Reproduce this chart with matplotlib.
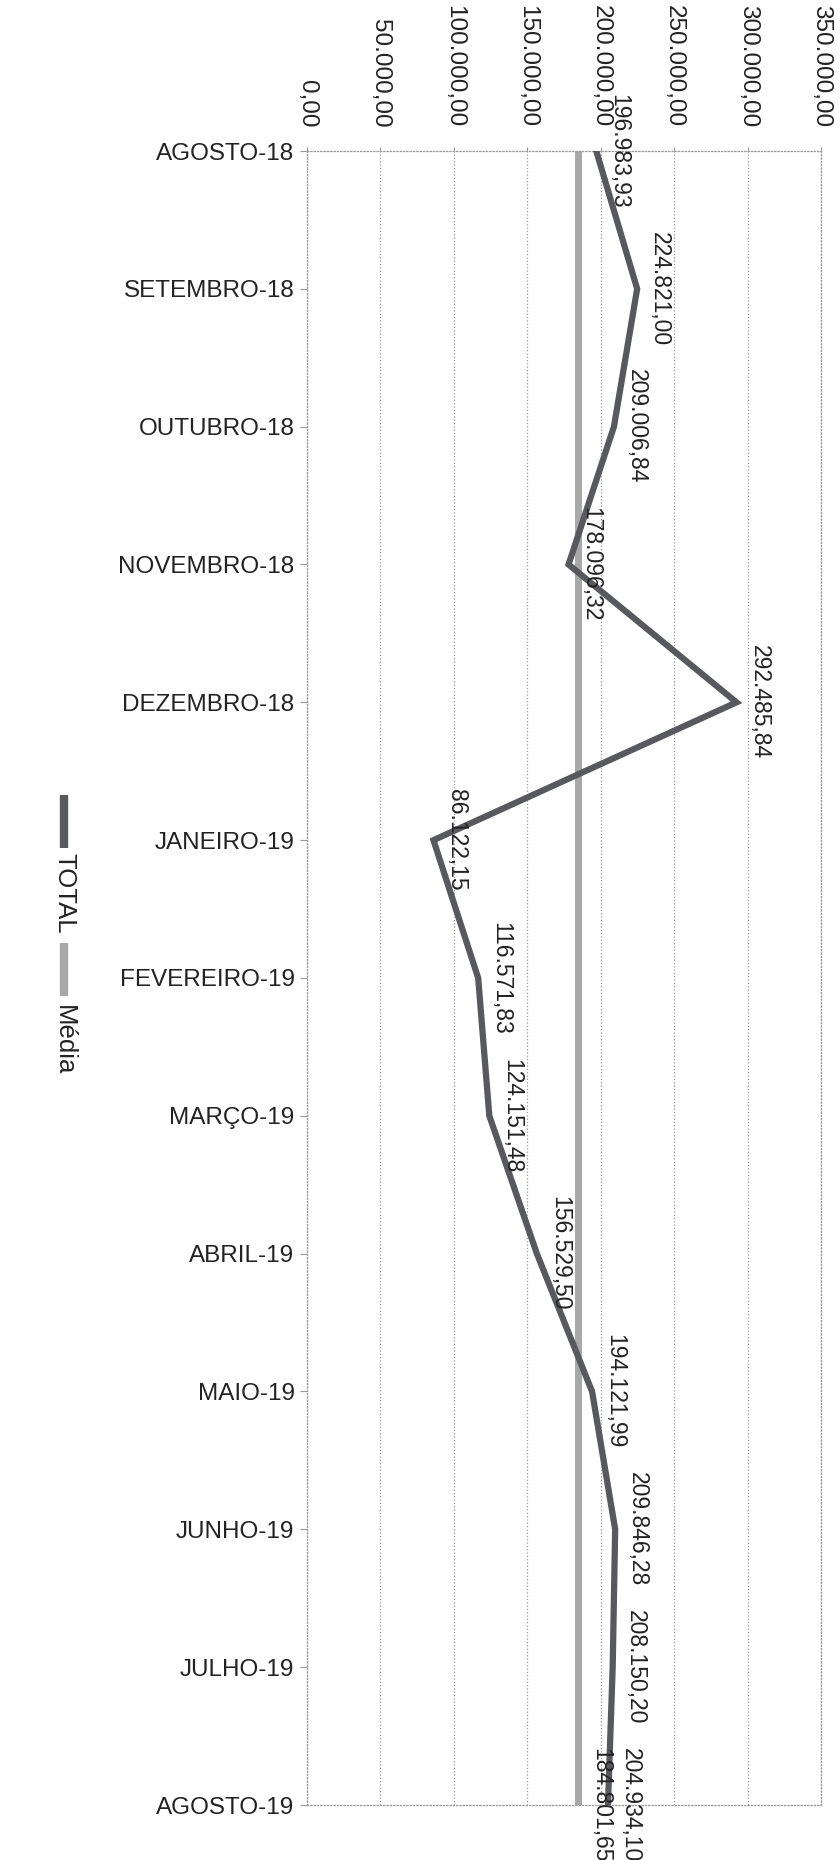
import matplotlib
matplotlib.use("Agg")
import matplotlib.pyplot as plt
from matplotlib.lines import Line2D

plt.rcParams['font.family'] = ['Liberation Sans', 'DejaVu Sans']

months = ["AGOSTO-18", "SETEMBRO-18", "OUTUBRO-18", "NOVEMBRO-18", "DEZEMBRO-18",
          "JANEIRO-19", "FEVEREIRO-19", "MARÇO-19", "ABRIL-19", "MAIO-19",
          "JUNHO-19", "JULHO-19", "AGOSTO-19"]
total = [196983.93, 224821.00, 209006.84, 178096.32, 292485.84,
         86122.15, 116571.83, 124151.48, 156529.50, 194121.99,
         209846.28, 208150.20, 204934.10]
media = 184801.65
x_ticks = [0, 50000, 100000, 150000, 200000, 250000, 300000, 350000]


def br(v):
    s = f"{v:,.2f}"
    return s.replace(",", "X").replace(".", ",").replace("X", ".")


W, H = 840, 1860
fig = plt.figure(figsize=(W / 100, H / 100), dpi=100)
fig.patch.set_facecolor("white")
left, right, top, bottom = 307 / W, 821 / W, 151 / H, 1805 / H
ax = fig.add_axes([left, 1 - bottom, right - left, bottom - top])

pos = list(range(len(months)))
media_vals = [media] * len(months)

C_TOTAL = "#58585f"
C_MEDIA = "#a8a8a8"

ax.plot(media_vals, pos, color=C_MEDIA, lw=5, solid_capstyle="butt", zorder=2)
ax.plot(total, pos, color=C_TOTAL, lw=4.5, solid_joinstyle="miter", zorder=3)

FS = 17.5
FS_LBL = 16.5
for v, p in zip(total, pos):
    ax.annotate(br(v), (v, p), xytext=(8, 0), textcoords="offset points",
                rotation=-90, ha="left", va="center", fontsize=FS_LBL,
                color="#222222", annotation_clip=False, zorder=4)
ax.annotate(br(media), (media, pos[-1]), xytext=(8, 0), textcoords="offset points",
            rotation=-90, ha="left", va="center", fontsize=FS_LBL,
            color="#222222", annotation_clip=False, zorder=4)

ax.set_xlim(0, 350000)
ax.set_ylim(len(months) - 1, 0)
ax.set_xticks(x_ticks)
ax.set_xticklabels([br(v) for v in x_ticks], rotation=-90, fontsize=FS, color="#222222")
ax.xaxis.tick_top()
ax.set_yticks(pos)
ax.set_yticklabels(months, fontsize=FS, color="#222222")
ax.tick_params(axis="x", length=3, color="#999999", pad=14)
ax.tick_params(axis="y", length=5, color="#999999", pad=4)

ax.grid(axis="x", linestyle=":", color="#999999", lw=0.9)
ax.grid(axis="y", visible=False)
for sp in ax.spines.values():
    sp.set_linestyle(":")
    sp.set_color("#999999")
    sp.set_linewidth(0.9)

# rotated legend
fig.add_artist(Line2D([64 / W, 64 / W], [1 - 795 / H, 1 - 848 / H],
                      transform=fig.transFigure, color=C_TOTAL, lw=6,
                      solid_capstyle="butt"))
fig.text(64 / W, 1 - 853 / H, "TOTAL", rotation=-90, ha="center", va="top",
         fontsize=18.5, color="#222222")
fig.add_artist(Line2D([64 / W, 64 / W], [1 - 943 / H, 1 - 996 / H],
                      transform=fig.transFigure, color=C_MEDIA, lw=6,
                      solid_capstyle="butt"))
fig.text(64 / W, 1 - 1005 / H, "Média", rotation=-90, ha="center", va="top",
         fontsize=18.5, color="#222222")

fig.savefig("out.png", dpi=100, facecolor="white")
